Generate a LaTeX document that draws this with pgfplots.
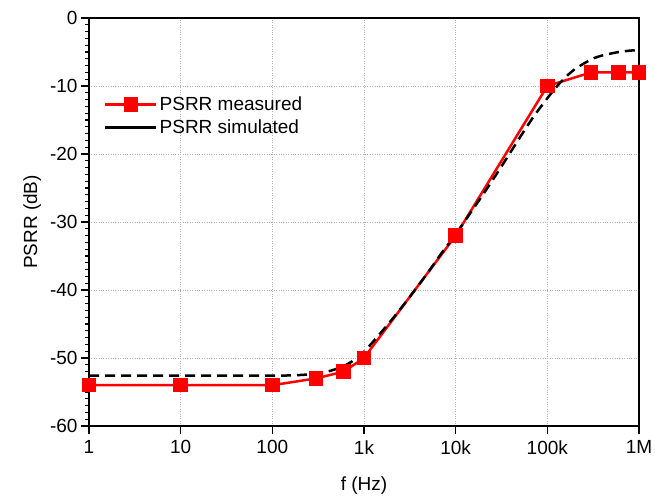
\documentclass[border=0pt]{standalone}
\usepackage{fontspec}
\setmainfont{Liberation Sans}
\usepackage{pgfplots}
\pgfplotsset{compat=1.18}
\newcommand\ff{\fontsize{19}{23}\selectfont}
\begin{document}
\begin{tikzpicture}
\useasboundingbox (-89pt,-75pt) rectangle (566pt,426pt);
\begin{axis}[
  at={(0pt,0pt)}, anchor=south west,
  scale only axis, width=550pt, height=408pt,
  xmode=log, xmin=1, xmax=1e6, ymin=-60, ymax=0,
  log basis x=10,
  xtick={1,10,100,1000,10000,100000,1000000},
  xticklabels={1,10,100,1k,10k,100k,1M},
  ytick={-60,-50,-40,-30,-20,-10,0},
  minor y tick num=9,
  tick align=outside, xtick pos=bottom, ytick pos=left,
  major tick length=8pt, minor tick length=4.5pt,
  every tick/.style={black, line width=1.1pt},
  axis line style={line width=1.5pt},
  grid=major,
  major grid style={gray!60, dotted, line width=0.9pt},
  /pgf/number format/assume math mode=true,
  tick label style={font=\ff},
  xticklabel style={yshift=-3pt},
  label style={font=\ff},
  xlabel={f (Hz)}, ylabel={PSRR (dB)},
  xlabel style={yshift=-15pt},
  ylabel style={yshift=2pt},
  legend style={draw=none, fill=none, at={(0.025,0.815)}, anchor=north west,
    font=\ff, row sep=4pt, inner sep=1pt},
  legend cell align=left,
]
\addplot[red, line width=2.5pt, mark=square*, mark size=6pt, mark options={solid},
  legend image code/.code={\draw[mark repeat=2,mark phase=2] plot coordinates {(0cm,0cm) (0.9cm,0cm) (1.8cm,0cm)};}]
coordinates {
(1,-54) (10,-54) (100,-54) (300,-53) (600,-52) (1000,-50)
(10000,-32) (100000,-10) (300000,-8) (600000,-8) (1000000,-8)
};
\addlegendentry{PSRR measured}
\addplot[black, line width=2.5pt, dash pattern=on 10pt off 6pt, smooth,
  legend image code/.code={\draw[solid, black, line width=2.5pt] (0cm,0cm) -- (1.8cm,0cm);}]
coordinates {
(1,-52.6) (10,-52.6) (100,-52.6) (200,-52.5) (300,-52.3) (400,-52.0) (500,-51.6)
(600,-51.2) (700,-50.7) (800,-50.2) (1000,-49.1) (1500,-46.4) (2000,-44.4)
(3000,-41.4) (5000,-37.4) (7000,-34.6) (10000,-31.8) (20000,-25.9) (30000,-22.3)
(50000,-17.6) (70000,-14.6) (100000,-11.8) (130000,-9.9) (170000,-8.3)
(200000,-7.5) (300000,-6.1) (400000,-5.5) (600000,-5.0) (800000,-4.8) (1000000,-4.7)
};
\addlegendentry{PSRR simulated}
\end{axis}
\end{tikzpicture}
\end{document}
